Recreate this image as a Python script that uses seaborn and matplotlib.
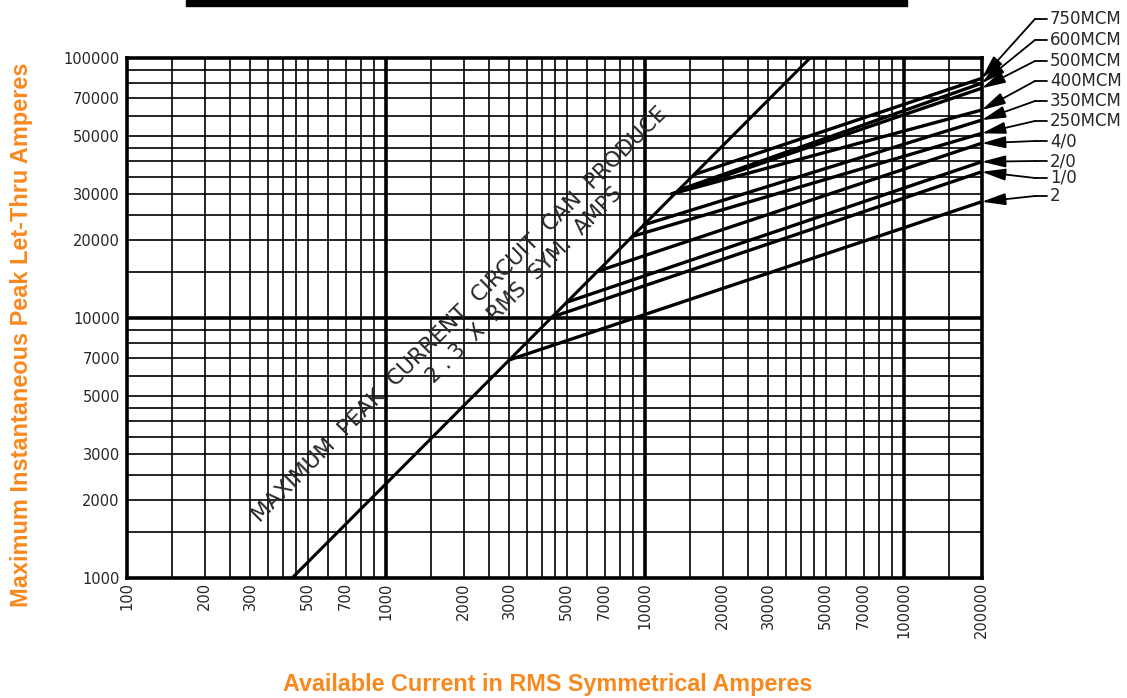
import pandas as pd
import matplotlib.pyplot as plt
import seaborn as sns
from matplotlib.patches import Rectangle

# -----------------------------------------------
# Data
# -----------------------------------------------
# maximum peak line (2.3 x RMS sym. amps)
max_rms = [435, 43500]
max_peak = [1000, 100000]

cables = ['750MCM', '600MCM', '500MCM', '400MCM', '350MCM', '250MCM', '4/0', '2/0', '1/0', '2']
start_rms = [15500, 13500, 12700, 12700, 9900, 8950, 6550, 5000, 4400, 3000]
start_peak = [35600, 31000, 30000, 30000, 22800, 20600, 15100, 11500, 10100, 6900]
end_rms = [200000] * 10
end_peak = [83500, 80000, 76500, 63100, 57700, 51300, 47000, 39900, 36500, 28000]
label_y = [19, 40, 61, 81, 101, 121, 141, 161, 178, 196]   # px from top

x_ticks = [100, 200, 300, 500, 700, 1000, 2000, 3000, 5000, 7000,
           10000, 20000, 30000, 50000, 70000, 100000, 200000]
y_ticks = [1000, 2000, 3000, 5000, 7000, 10000, 20000, 30000, 50000, 70000, 100000]
grid_mult = [1, 1.5, 2, 2.5, 3, 3.5, 4, 4.5, 5, 6, 7, 8, 9]

orange = '#F7891F'

# -----------------------------------------------
# Figure
# -----------------------------------------------
sns.set_style("white")
plt.rcParams['font.family'] = ['DejaVu Sans']

W, H = 1127, 698
fig = plt.figure(figsize=(W / 100, H / 100), dpi=100)
ax = fig.add_axes([126.7 / W, 1 - 578 / H, (981.7 - 126.7) / W, (578 - 58) / H])
ax.set_xscale('log')
ax.set_yscale('log')
ax.set_xlim(100, 200000)
ax.set_ylim(1000, 100000)

# grid lines
for dec in [100, 1000, 10000, 100000]:
    for m in grid_mult:
        v = dec * m
        if 100 < v < 200000:
            ax.axvline(v, color='black', lw=2.6 if m == 1 else 1.2, zorder=1)
for dec in [1000, 10000]:
    for m in grid_mult:
        v = dec * m
        if 1000 < v < 100000:
            ax.axhline(v, color='black', lw=2.6 if m == 1 else 1.2, zorder=1)

# max peak line
sns.lineplot(x=max_rms, y=max_peak, color='black', lw=2.2, ax=ax, zorder=3)

# cable lines
rows = []
for name, x0, y0, x1, y1 in zip(cables, start_rms, start_peak, end_rms, end_peak):
    rows.append({'cable': name, 'rms': x0, 'peak': y0})
    rows.append({'cable': name, 'rms': x1, 'peak': y1})
df = pd.DataFrame(rows)
sns.lineplot(data=df, x='rms', y='peak', units='cable', estimator=None,
             color='black', lw=2.4, ax=ax, zorder=3, sort=False)

# ticks
ax.set_xticks(x_ticks)
ax.set_xticklabels([str(v) for v in x_ticks], rotation=90, fontsize=10.5)
ax.set_yticks(y_ticks)
ax.set_yticklabels([str(v) for v in y_ticks], fontsize=10.5)
ax.minorticks_off()
ax.tick_params(axis='x', length=0, pad=3)
ax.tick_params(axis='y', length=3, width=1, pad=2)
for s in ax.spines.values():
    s.set_linewidth(2.6)
    s.set_color('black')

ax.set_xlabel('')
ax.set_ylabel('')

# text along the max line
ax.text(1943, 10270, 'MAXIMUM  PEAK  CURRENT  CIRCUIT  CAN  PRODUCE',
        rotation=45, ha='center', va='center', fontsize=15.7, zorder=4,
        rotation_mode='anchor')
ax.text(3434, 13400, '2 . 3  X  RMS  SYM.  AMPS',
        rotation=45, ha='center', va='center', fontsize=15, zorder=4,
        rotation_mode='anchor')

# labels on the right with leaders
for name, ly, yv in zip(cables, label_y, end_peak):
    fig.text(1050 / W, 1 - ly / H, name, ha='left', va='center', fontsize=12)
    fig.add_artist(plt.Line2D([1035 / W, 1047 / W], [1 - ly / H, 1 - ly / H],
                              color='black', lw=1.3))
    ax.annotate('', xy=(200000, yv), xycoords='data',
                xytext=(1035, H - ly), textcoords='figure pixels',
                annotation_clip=False,
                arrowprops=dict(arrowstyle='-|>,head_length=1.2,head_width=0.3',
                                mutation_scale=12, color='black', lw=1.3,
                                shrinkA=0, shrinkB=0))

# axis titles
title_font = ['Liberation Sans', 'DejaVu Sans']
fig.text(548 / W, 1 - 685 / H, 'Available Current in RMS Symmetrical Amperes',
         ha='center', va='center', fontsize=16.8, fontweight='bold',
         color=orange, family=title_font)
fig.text(22 / W, 1 - 335 / H, 'Maximum Instantaneous Peak Let-Thru Amperes',
         ha='center', va='center', rotation=90, fontsize=16.9, fontweight='bold',
         color=orange, family=title_font)

# black bar at top
fig.add_artist(Rectangle((186 / W, 1 - 6 / H), (907 - 186) / W, 6 / H,
                         transform=fig.transFigure, color='black'))

fig.savefig('out.png', dpi=100)
